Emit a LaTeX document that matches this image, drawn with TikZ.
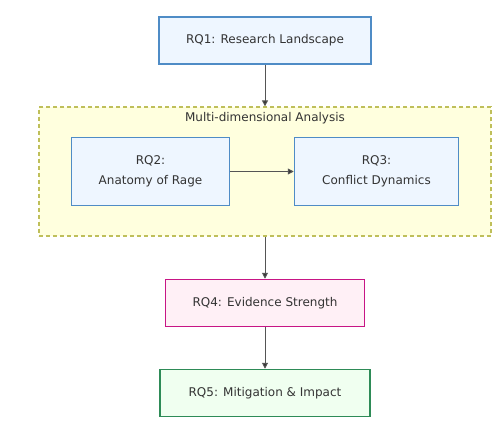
\documentclass[tikz,border=0pt]{standalone}
\usepackage{fontspec}
\setmainfont{DejaVu Sans}
\usetikzlibrary{arrows.meta}
\definecolor{txt}{HTML}{333333}
\definecolor{bfill}{HTML}{EEF6FF}
\definecolor{bdraw}{HTML}{4F8CC6}
\definecolor{pfill}{HTML}{FFF0F6}
\definecolor{pdraw}{HTML}{C71585}
\definecolor{gfill}{HTML}{F0FFF0}
\definecolor{gdraw}{HTML}{2E8B57}
\definecolor{cfill}{HTML}{FFFFDE}
\definecolor{cdraw}{HTML}{BFBF5A}
\definecolor{lin}{HTML}{555555}
\begin{document}
\begin{tikzpicture}[x=1pt,y=-1pt,
  box/.style={draw=bdraw,fill=bfill,line width=1.5pt,text=txt,font=\fontsize{12}{20}\selectfont,align=center,inner sep=0pt},
  pbox/.style={box,draw=pdraw,fill=pfill},
  gbox/.style={box,draw=gdraw,fill=gfill},
  clus/.style={draw=cdraw,fill=cfill,dashed,dash pattern=on 4pt off 3pt,line width=1.3pt},
  conn/.style={draw=lin,line width=1pt,-{Triangle[length=6pt,width=6pt,fill=txt]}}
]
\useasboundingbox (0,0) rectangle (501,434);
\fill[white] (0,0) rectangle (501,434);
\node[clus,minimum width=452pt,minimum height=129pt,inner sep=0pt] (cl) at (265,171.5) {};
\node[text=txt,font=\fontsize{12}{14}\selectfont] (cllab) at (265,118) {Multi-dimensional Analysis};
\node[box,minimum width=212pt,minimum height=47pt] (rq1) at (265,40.5) {RQ1: Research Landscape};
\node[box,minimum width=158pt,minimum height=68pt] (rq2) at (150.5,171.5) {RQ2:\\Anatomy of Rage};
\node[box,minimum width=164pt,minimum height=68pt] (rq3) at (376.5,171.5) {RQ3:\\Conflict Dynamics};
\node[pbox,minimum width=199pt,minimum height=47pt] (rq4) at (265,303) {RQ4: Evidence Strength};
\node[gbox,minimum width=210pt,minimum height=47pt] (rq5) at (265,393) {RQ5: Mitigation \& Impact};
\draw[conn] (rq1.south) -- (cl.north);
\draw[conn] (rq2.east) -- (rq3.west);
\draw[conn] (cl.south) -- (rq4.north);
\draw[conn] (rq4.south) -- (rq5.north);
\end{tikzpicture}
\end{document}
